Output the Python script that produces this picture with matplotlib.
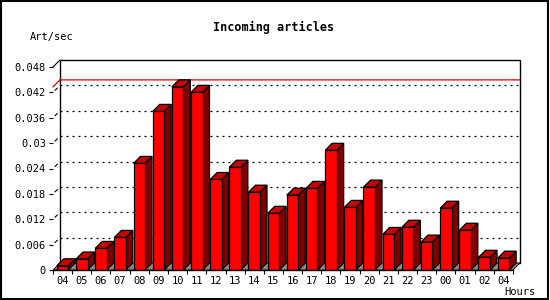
import numpy as np
import matplotlib
matplotlib.use("Agg")
import matplotlib.pyplot as plt
from matplotlib.patches import Polygon, Rectangle

# Datos (artículos por segundo, por hora)
horas = ["04", "05", "06", "07", "08", "09", "10", "11", "12", "13", "14", "15",
         "16", "17", "18", "19", "20", "21", "22", "23", "00", "01", "02", "04"]
art_sec = [0.0010, 0.0026, 0.0051, 0.0077, 0.0252, 0.0375, 0.0433, 0.0420,
           0.0214, 0.0243, 0.0184, 0.0134, 0.0177, 0.0193, 0.0283, 0.0148,
           0.0196, 0.0084, 0.0101, 0.0066, 0.0146, 0.0094, 0.0030, 0.0028]
y_ticks = [0, 0.006, 0.012, 0.018, 0.024, 0.03, 0.036, 0.042, 0.048]
y_labels = ["0", "0.006", "0.012", "0.018", "0.024", "0.03", "0.036", "0.042", "0.048"]
linea_max = 0.0433

plt.rcParams["font.family"] = ["DejaVu Sans Mono"]

fig = plt.figure(figsize=(5.5, 3), dpi=100)
ax = fig.add_axes([53 / 550, 30 / 300, 460 / 550, 203 / 300])

n = len(horas)
x0, x1 = -0.5, n - 0.5
ymax = 0.048
ax.set_xlim(x0, x1)
ax.set_ylim(0, ymax)

# profundidad 3D (7 px en cada dirección)
dx = 7 / 460 * n
dy = 7 / 203 * ymax
w = 0.6

# Plano de fondo
ax.add_patch(Rectangle((x0 + dx, dy), x1 - x0, ymax, facecolor="white",
                       edgecolor="black", lw=1.0, zorder=1, clip_on=False))
ax.plot([x0, x0 + dx], [ymax, ymax + dy], color="black", lw=0.8, zorder=1, clip_on=False)

# Rejilla punteada
for v in y_ticks[1:-1]:
    ax.plot([x0 + dx, x1 + dx], [v + dy, v + dy], color="black", lw=0.9,
            linestyle=(0, (1.6, 3.2)), zorder=2, clip_on=False)
    ax.plot([x0 + dx * 0.3, x0 + dx * 0.6], [v + dy * 0.3, v + dy * 0.6],
            color="black", lw=0.8, zorder=2, clip_on=False)

# Línea roja de referencia
ax.plot([x0, x0 + dx, x1 + dx], [linea_max, linea_max + dy, linea_max + dy],
        color="#dd0000", lw=0.9, zorder=3, clip_on=False)

# Suelo gris
ax.add_patch(Polygon([(x0, 0), (x0 + dx, dy), (x1 + dx, dy), (x1, 0)],
                     closed=True, facecolor="#8c8c8c", edgecolor="black",
                     lw=0.6, zorder=3, clip_on=False))

# Barras 3D
for i, v in enumerate(art_sec):
    l, r = i - w / 2, i + w / 2
    ax.bar(i, v, width=w, color="#ff0000", edgecolor="black", linewidth=0.9,
           zorder=5)
    ax.add_patch(Polygon([(r, 0), (r + dx, dy), (r + dx, v + dy), (r, v)],
                         closed=True, facecolor="#800000", edgecolor="black",
                         lw=0.9, zorder=4, clip_on=False))
    ax.add_patch(Polygon([(l, v), (l + dx, v + dy), (r + dx, v + dy), (r, v)],
                         closed=True, facecolor="#c80000", edgecolor="black",
                         lw=0.9, zorder=4, clip_on=False))

# Ejes
for s in ["top", "right", "left"]:
    ax.spines[s].set_visible(False)
ax.spines["bottom"].set_linewidth(1.0)
ax.spines["bottom"].set_zorder(6)

ax.set_yticks(y_ticks)
ax.set_yticklabels(y_labels, fontsize=7.5)
ax.tick_params(axis="y", length=3, width=0.8, pad=2)

ax.set_xticks(np.arange(n))
ax.set_xticklabels(horas, fontsize=7.5)
ax.set_xticks(np.arange(n + 1) - 0.5, minor=True)
ax.tick_params(axis="x", which="major", length=0, pad=4)
ax.tick_params(axis="x", which="minor", length=3, width=0.8)

# Textos
fig.text(274 / 550, 1 - 27 / 300, "Incoming articles", ha="center", va="center",
         fontsize=8.5, fontweight="bold")
fig.text(30 / 550, 1 - 37 / 300, "Art/sec", ha="left", va="center", fontsize=7.5)
fig.text(520 / 550, 1 - 292 / 300, "Hours", ha="center", va="center", fontsize=7.5)

# Marco exterior
fig.add_artist(Rectangle((0.001, 0.002), 0.996, 0.994, transform=fig.transFigure,
                         fill=False, edgecolor="black", lw=1.5))

fig.savefig("out.png", dpi=100)
